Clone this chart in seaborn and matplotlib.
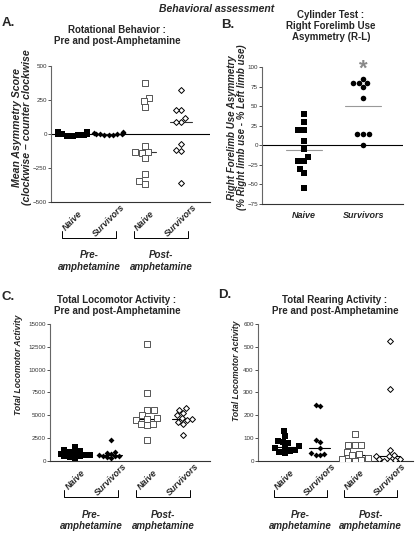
import numpy as np
import pandas as pd
import matplotlib
matplotlib.use('Agg')
import matplotlib.pyplot as plt
import seaborn as sns

sns.set_theme(style='ticks')
plt.rcParams['font.family'] = ['Liberation Sans', 'DejaVu Sans']

groups = ['Pre Naive', 'Pre Survivors', 'Post Naive', 'Post Survivors']
tick_names = ['Naive', 'Survivors', 'Naive', 'Survivors']
bracket_names = ['Pre-\namphetamine', 'Post-\namphetamine']

# A. rotational behavior (clockwise - counter clockwise)
rot_pre_naive = [-18, -12, -8, -5, -3, 0, 2, 4, 6, 9, 12, 16]
rot_pre_surv = [15, 8, 5, 2, 0, -2, -4, -6, 3, -10]
rot_post_naive = [375, 265, 240, 195, -90, -130, -135, -140, -180, -295, -345, -365]
rot_post_surv = [320, 180, 180, 115, 90, 90, -75, -115, -125, -360]

# B. cylinder test, right forelimb use asymmetry
cyl_groups = ['Naive', 'Survivors']
cyl_naive = [40, 30, 20, 20, 5, -5, -15, -20, -20, -30, -35, -55]
cyl_surv = [85, 80, 80, 80, 75, 60, 15, 15, 15, 0]

# C. total locomotor activity
loco_pre_naive = [1500, 1200, 1100, 1000, 900, 800, 700, 700, 600, 500, 400, 300]
loco_pre_surv = [2300, 1000, 900, 800, 700, 600, 600, 500, 400, 300]
loco_post_naive = [12800, 7400, 5600, 5600, 5000, 4700, 4600, 4500, 4100, 4000, 3900, 2300]
loco_post_surv = [5800, 5600, 5300, 5000, 4700, 4600, 4500, 4300, 4100, 2900]

# D. total rearing activity
rear_pre_naive = [133, 110, 88, 85, 78, 65, 60, 55, 50, 45, 40, 35]
rear_pre_surv = [245, 242, 90, 85, 58, 35, 30, 28, 25]
rear_post_naive = [118, 70, 70, 70, 40, 30, 25, 12, 10, 5, 2, 0]
rear_post_surv = [525, 315, 50, 28, 22, 20, 10, 8, 5, 2, 0]

styles = [dict(marker='s', color='black', size=3.8),
          dict(marker='D', color='black', size=3.0),
          dict(marker='s', color='white', edgecolor='#555555', linewidth=0.7, size=3.8),
          dict(marker='D', color='white', edgecolor='black', linewidth=0.7, size=3.0)]


def long_df(names, lists):
    return pd.DataFrame({'group': np.repeat(names, [len(v) for v in lists]),
                         'value': np.concatenate(lists).astype(float)})


def draw_groups(ax, df, order, sty, line_color='black', stat=np.median):
    for i, (g, st) in enumerate(zip(order, sty)):
        sub = df[df['group'] == g]
        sns.swarmplot(data=sub, x='group', y='value', order=order, ax=ax,
                      warn_thresh=1, **st)
        m = stat(sub['value'])
        ax.plot([i - 0.3, i + 0.3], [m, m], color=line_color, lw=0.8, zorder=0.9)


def style_axes(ax, ylim, yticks):
    ax.set_ylim(ylim)
    ax.set_yticks(yticks)
    ax.set_xlabel('')
    sns.despine(ax=ax)
    ax.spines['left'].set_color('#666666')
    ax.spines['left'].set_linewidth(0.8)
    ax.spines['bottom'].set_color('#333333')
    ax.spines['bottom'].set_linewidth(0.8)
    ax.tick_params(axis='y', labelsize=4.5, length=2, width=0.6, pad=1, colors='#333333')
    ax.tick_params(axis='x', length=0)


def rotated_ticks_and_brackets(ax):
    ax.set_xticks(range(4))
    ax.set_xticklabels(tick_names, rotation=45, ha='center', va='center',
                       fontsize=6.5, fontweight='bold', fontstyle='italic')
    ax.tick_params(axis='x', pad=13.5)
    tr = ax.get_xaxis_transform()
    for k, name in enumerate(bracket_names):
        x0, x1 = 2 * k - 0.3, 2 * k + 1.2
        ax.plot([x0, x0, x1, x1], [-0.212, -0.264, -0.264, -0.212], transform=tr,
                color='black', lw=0.7, clip_on=False)
        ax.text((x0 + x1) / 2, -0.355, name, transform=tr, ha='center', va='top',
                fontsize=7, fontweight='bold', fontstyle='italic', linespacing=1.2)


fig = plt.figure(figsize=(4.16, 5.34), dpi=100)

# ---- A ----
axA = fig.add_axes([0.1226, 0.6217, 0.382, 0.2547])
dfA = long_df(groups, [rot_pre_naive, rot_pre_surv, rot_post_naive, rot_post_surv])
axA.axhline(0, color='black', lw=0.8, zorder=0.8)
draw_groups(axA, dfA, groups, styles, line_color='#333333')
style_axes(axA, (-500, 500), [-500, -250, 0, 250, 500])
axA.set_xlim(-0.6, 3.8)
rotated_ticks_and_brackets(axA)
axA.set_ylabel('Mean Asymmetry Score\n(clockwise \u2013 counter clockwise', fontsize=7.6,
               fontweight='bold', fontstyle='italic', linespacing=1.0)
axA.yaxis.set_label_coords(-0.12, 0.55)

# ---- B ----
axB = fig.add_axes([0.630, 0.618, 0.339, 0.2566])
dfB = long_df(cyl_groups, [cyl_naive, cyl_surv])
axB.axhline(0, color='black', lw=0.8, zorder=0.8)
stylesB = [dict(marker='s', color='black', size=4.0), dict(marker='o', color='black', size=4.0)]
draw_groups(axB, dfB, cyl_groups, stylesB, line_color='#999999', stat=np.mean)
style_axes(axB, (-75, 100), [-75, -50, -25, 0, 25, 50, 75, 100])
axB.set_xlim(-0.7, 1.67)
axB.set_xticks(range(2))
axB.set_xticklabels(cyl_groups, fontsize=6.5, fontweight='bold', fontstyle='italic')
axB.tick_params(axis='x', pad=5)
axB.text(1, 97, '*', ha='center', va='center', fontsize=16, color='#888888', fontweight='bold')
axB.set_ylabel('Right Forelimb Use Asymmetry\n(% Right limb use - % Left limb use)', fontsize=7,
               fontweight='bold', fontstyle='italic', linespacing=1.0)
axB.yaxis.set_label_coords(-0.11, 0.56)

# ---- C ----
axC = fig.add_axes([0.120, 0.1367, 0.385, 0.2566])
dfC = long_df(groups, [loco_pre_naive, loco_pre_surv, loco_post_naive, loco_post_surv])
draw_groups(axC, dfC, groups, styles)
style_axes(axC, (0, 15000), [0, 2500, 5000, 7500, 10000, 12500, 15000])
axC.set_xlim(-0.7, 3.75)
rotated_ticks_and_brackets(axC)
axC.set_ylabel('Total Locomotor Activity', fontsize=6.2, fontweight='bold', fontstyle='italic')
axC.yaxis.set_label_coords(-0.17, 0.70)

# ---- D ----
axD = fig.add_axes([0.620, 0.1367, 0.3726, 0.2566])
dfD = long_df(groups, [rear_pre_naive, rear_pre_surv, rear_post_naive, rear_post_surv])
draw_groups(axD, dfD, groups, styles)
style_axes(axD, (0, 600), [0, 100, 200, 300, 400, 500, 600])
axD.set_xlim(-0.77, 3.66)
rotated_ticks_and_brackets(axD)
axD.set_ylabel('Total Locomotor Activity', fontsize=6.2, fontweight='bold', fontstyle='italic')
axD.yaxis.set_label_coords(-0.11, 0.66)

# titles, panel letters
fig.text(0.52, 1 - 9 / 534, 'Behavioral assessment', ha='center', va='center',
         fontsize=7.5, fontweight='bold', fontstyle='italic')
title_kw = dict(ha='center', va='top', fontsize=7, fontweight='bold', linespacing=1.15)
fig.text(117 / 416, 1 - 25 / 534, 'Rotational Behavior :\nPre and post-Amphetamine', **title_kw)
fig.text(331 / 416, 1 - 10 / 534, 'Cylinder Test :\nRight Forelimb Use\nAsymmetry (R-L)', **title_kw)
fig.text(117 / 416, 1 - 295 / 534, 'Total Locomotor Activity :\nPre and post-Amphetamine', **title_kw)
fig.text(335 / 416, 1 - 295 / 534, 'Total Rearing Activity :\nPre and post-Amphetamine', **title_kw)
letter_kw = dict(ha='left', va='center', fontsize=9.5, fontweight='bold')
fig.text(2 / 416, 1 - 23 / 534, 'A.', **letter_kw)
fig.text(221 / 416, 1 - 25 / 534, 'B.', **letter_kw)
fig.text(2 / 416, 1 - 297 / 534, 'C.', **letter_kw)
fig.text(218 / 416, 1 - 295 / 534, 'D.', **letter_kw)

fig.savefig('out.png', dpi=100, facecolor='white')
